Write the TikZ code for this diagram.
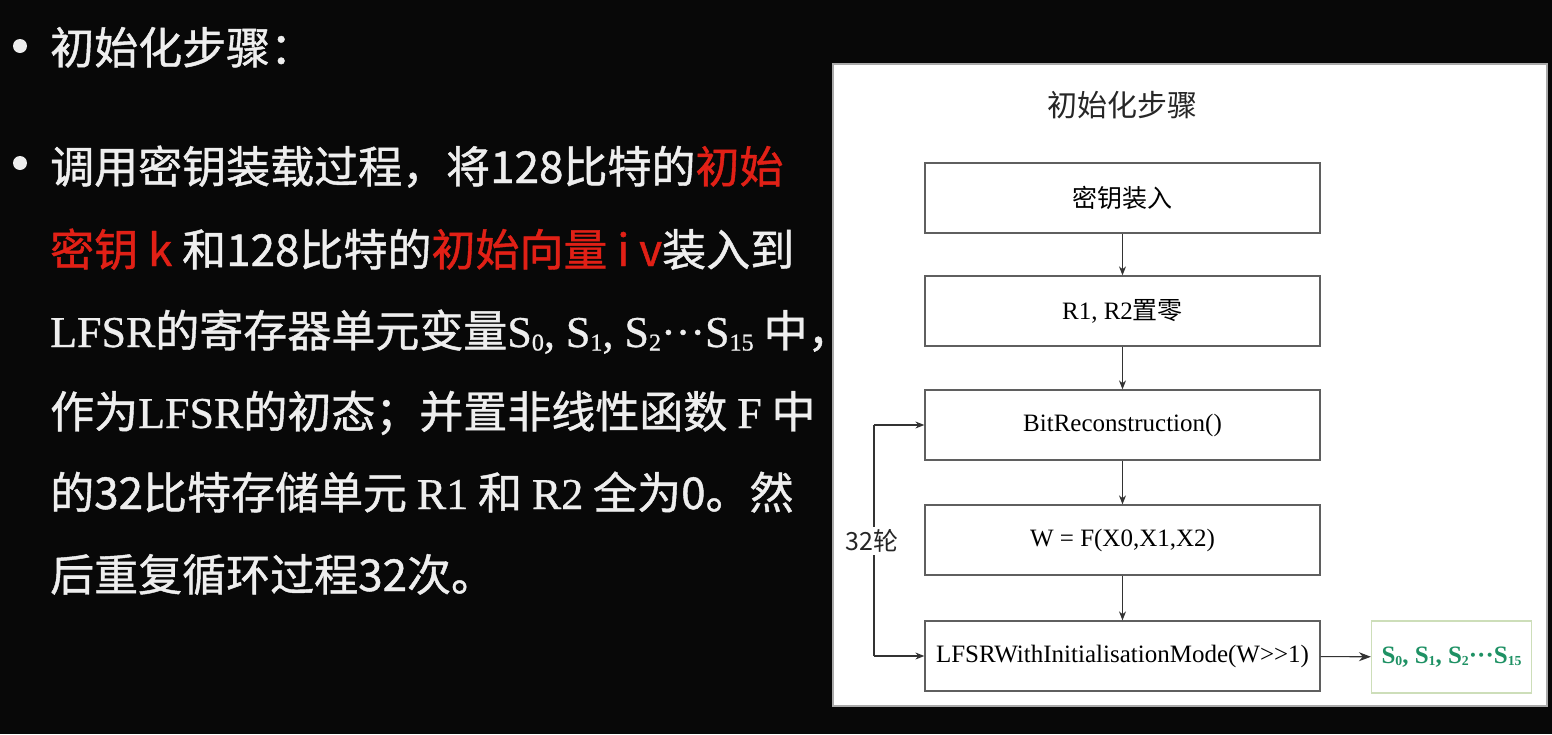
\documentclass[tikz,border=0pt]{standalone}
\usepackage{fontspec}
\setmainfont{Liberation Serif}
\newfontfamily\cjk{Noto Sans CJK SC}
\newfontfamily\cjkheavy[FakeBold=1]{Noto Sans CJK SC}
\newfontfamily\lat[FakeBold=0.8]{Liberation Serif}
\usetikzlibrary{arrows.meta}

\definecolor{slidebg}{RGB}{8,8,8}
\definecolor{slidetext}{RGB}{238,238,238}
\definecolor{keyred}{RGB}{225,32,22}
\definecolor{boxline}{RGB}{95,95,95}
\definecolor{panelline}{RGB}{170,170,170}
\definecolor{outgreen}{RGB}{30,145,100}
\definecolor{outframe}{RGB}{205,222,185}

\newcommand{\lt}[1]{{\lat #1}}
\newcommand{\hot}[1]{\textcolor{keyred}{#1}}
\newcommand{\sub}[1]{\raisebox{-0.08em}{\scalebox{0.55}{#1}}}

\tikzset{
  bullettext/.style={anchor=base west, inner sep=0pt, text=slidetext,
    font=\cjkheavy\fontsize{44}{44}\selectfont},
  bulletdot/.style={circle, fill=slidetext, inner sep=0pt, minimum size=14pt},
  stepbox/.style={draw=boxline, line width=1.3pt, fill=white,
    minimum width=395pt, minimum height=70pt, inner sep=0pt,
    font=\fontsize{25}{25}\selectfont},
  flow/.style={draw=black!80, line width=1.1pt,
    -{Stealth[length=9pt,width=7pt]}},
  plain/.style={draw=black!80, line width=1.1pt},
}

\begin{document}
\begin{tikzpicture}[x=1pt,y=-1pt]
  % slide background and white panel
  \fill[slidebg] (0,0) rectangle (1552,734);
  \useasboundingbox (0,0) rectangle (1552,734);
  \fill[white, draw=panelline, line width=1.2pt] (833,64) rectangle (1547,706);

  % left column: bullet list
  \node[bulletdot] (d1) at (20,46) {};
  \node[bullettext] (l1) at (50,64) {初始化步骤：};
  \node[bulletdot] (d2) at (20,163) {};
  \node[bullettext] (l2) at (50,183) {调用密钥装载过程，将128比特的\hot{初始}};
  \node[bullettext] (l3) at (50,266) {\hot{密钥 k} 和128比特的\hot{初始向量 i v}装入到};
  \node[bullettext] (l4) at (50,347) {\lt{LFSR}的寄存器单元变量\lt{S\sub{0}, S\sub{1}, S\sub{2}···S\sub{15}} 中，};
  \node[bullettext] (l5) at (50,428) {作为\lt{LFSR}的初态；并置非线性函数 \lt{F} 中};
  \node[bullettext] (l6) at (50,509) {的32比特存储单元 \lt{R1} 和 \lt{R2} 全为0。然};
  \node[bullettext] (l7) at (50,591) {后重复循环过程32次。};

  % right panel: initialisation flow
  \node[font=\cjk\fontsize{30}{30}\selectfont, text=black!85] (title) at (1122,105) {初始化步骤};

  \node[stepbox] (b1) at (1122.5,198) {\cjk 密钥装入};
  \node[stepbox] (b2) at (1122.5,311) {R1, R2{\cjk 置零}};
  \node[stepbox] (b3) at (1122.5,425) {BitReconstruction()};
  \node[stepbox] (b4) at (1122.5,540) {W = F(X0,X1,X2)};
  \node[stepbox] (b5) at (1122.5,656) {LFSRWithInitialisationMode(W>{}>1)};

  \node[draw=outframe, line width=1.2pt, minimum width=160pt, minimum height=72pt,
        inner sep=0pt, text=outgreen, font=\bfseries\fontsize{25}{25}\selectfont]
        (out) at (1451.5,657)
        {S\sub{0}, S\sub{1}, S\sub{2}···S\sub{15}};

  \draw[flow] (b1) -- (b2);
  \draw[flow] (b2) -- (b3);
  \draw[flow] (b3) -- (b4);
  \draw[flow] (b4) -- (b5);
  \draw[flow, -{Stealth[length=12pt,width=9pt]}] (b5) -- (out);

  % 32-round feedback loop
  \coordinate (loopbot) at (874,656);
  \coordinate (looptop) at (874,425);
  \draw[plain] (loopbot) -- (looptop);
  \draw[flow] (looptop) -- (b3.west);
  \draw[flow] (loopbot) -- (b5.west);
  \node[fill=white, inner sep=3pt, font=\cjk\fontsize{25}{25}\selectfont, text=black!85]
        (rounds) at (872,541) {32轮};
\end{tikzpicture}
\end{document}
